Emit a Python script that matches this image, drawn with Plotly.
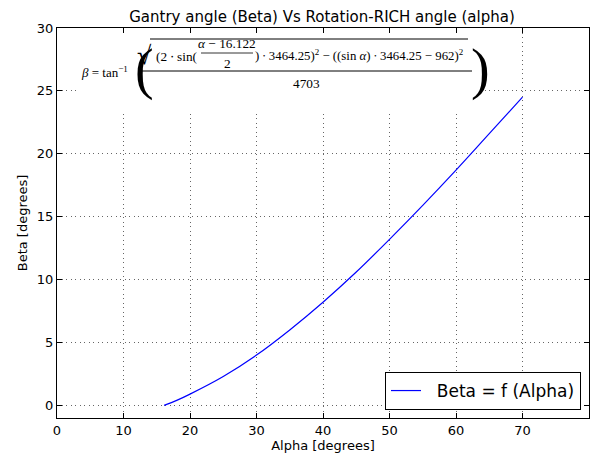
import plotly.graph_objects as go

# Data
alpha = [16.1, 18, 20, 25, 30, 35, 40, 45, 50, 55, 60, 65, 70]
beta = [0.0, 0.4, 0.9, 2.3, 4.0, 6.0, 8.2, 10.6, 13.2, 15.9, 18.7, 21.6, 24.5]
x_ticks = [0, 10, 20, 30, 40, 50, 60, 70, 80]
y_ticks = [0, 5, 10, 15, 20, 25, 30]

W, H = 592, 459
L, R, T, B = 57, 589, 28, 418  # plot area in pixels


def px(x):
    return (x - L) / (R - L)


def py(y):
    return (B - y) / (B - T)


fig = go.Figure()
fig.add_trace(go.Scatter(x=alpha, y=beta, mode="lines", name="&nbsp;&nbsp;Beta = f (Alpha)",
                         line=dict(color="#0000ff", width=1.2, shape="spline")))

axis_common = dict(showline=True, linecolor="black", linewidth=1, mirror="ticks",
                   ticks="inside", ticklen=5, tickcolor="black", showgrid=True,
                   gridcolor="#666", griddash="1px,3.5px", gridwidth=1, zeroline=False,
                   automargin=False,
                   tickfont=dict(family="DejaVu Sans", size=13, color="black"),
                   title_font=dict(family="DejaVu Sans", size=13, color="black"))

fig.update_xaxes(range=[0, 80], tickvals=x_ticks, title_text="Alpha [degrees]",
                 title_standoff=2, **axis_common)
fig.update_yaxes(range=[-1, 30], tickvals=y_ticks, title_text="Beta [degrees]",
                 title_standoff=6, **axis_common)

serif = dict(family="Liberation Serif", size=13.3, color="black")
serif_tail = dict(family="Liberation Serif", size=12.8, color="black")
serif_small = dict(family="Liberation Serif", size=13, color="black")
shapes = [
    dict(type="rect", xref="paper", yref="paper", x0=px(80), x1=px(482), y0=py(112), y1=py(33),
         fillcolor="white", line=dict(width=0), layer="above"),
    # sqrt overline
    dict(type="line", xref="paper", yref="paper", x0=px(150), x1=px(468), y0=py(39), y1=py(39),
         line=dict(color="black", width=1), layer="above"),
    # main fraction line
    dict(type="line", xref="paper", yref="paper", x0=px(142), x1=px(472), y0=py(71), y1=py(71),
         line=dict(color="black", width=1), layer="above"),
    # inner fraction line
    dict(type="line", xref="paper", yref="paper", x0=px(201), x1=px(253), y0=py(53), y1=py(53),
         line=dict(color="black", width=0.8), layer="above"),
]

ann = []


def add_text(text, x, y, xanchor="left", font=serif):
    ann.append(dict(text=text, xref="paper", yref="paper", x=px(x), y=py(y),
                    xanchor=xanchor, yanchor="middle", showarrow=False, font=font))


add_text("<i>β</i> = tan<sup>−1</sup>", 79, 72, font=serif_small)
add_text("(", 133, 70, font=dict(family="Liberation Serif", size=56, color="black"))
add_text(")", 469, 70, font=dict(family="Liberation Serif", size=56, color="black"))
add_text("√", 135, 56, font=dict(family="Liberation Serif", size=26, color="black"))
add_text("(2 ∙ sin(", 154, 57)
add_text("<i>α</i> − 16.122", 227, 44, xanchor="center")
add_text("2", 227, 63, xanchor="center")
add_text(") ∙ 3464.25)<sup>2</sup> − ((sin <i>α</i>) ∙ 3464.25 − 962)<sup>2</sup>", 253, 55,
         font=serif_tail)
add_text("4703", 306, 83, xanchor="center")

fig.update_layout(
    width=W, height=H,
    margin=dict(l=L, r=W - R, t=T, b=H - B),
    paper_bgcolor="white", plot_bgcolor="white",
    title=dict(text="Gantry angle (Beta) Vs Rotation-RICH angle (alpha)",
               x=px(322), xref="paper", xanchor="center", y=1 - 17 / H, yanchor="middle",
               font=dict(family="DejaVu Sans", size=15, color="black")),
    showlegend=True,
    legend=dict(x=px(581), y=py(410), xanchor="right", yanchor="bottom",
                bgcolor="white", bordercolor="black", borderwidth=1,
                font=dict(family="DejaVu Sans", size=17, color="black")),
    shapes=shapes, annotations=ann,
)

fig.write_html("out.html", config={"displayModeBar": False},
               post_script="document.body.style.margin='0px';")
